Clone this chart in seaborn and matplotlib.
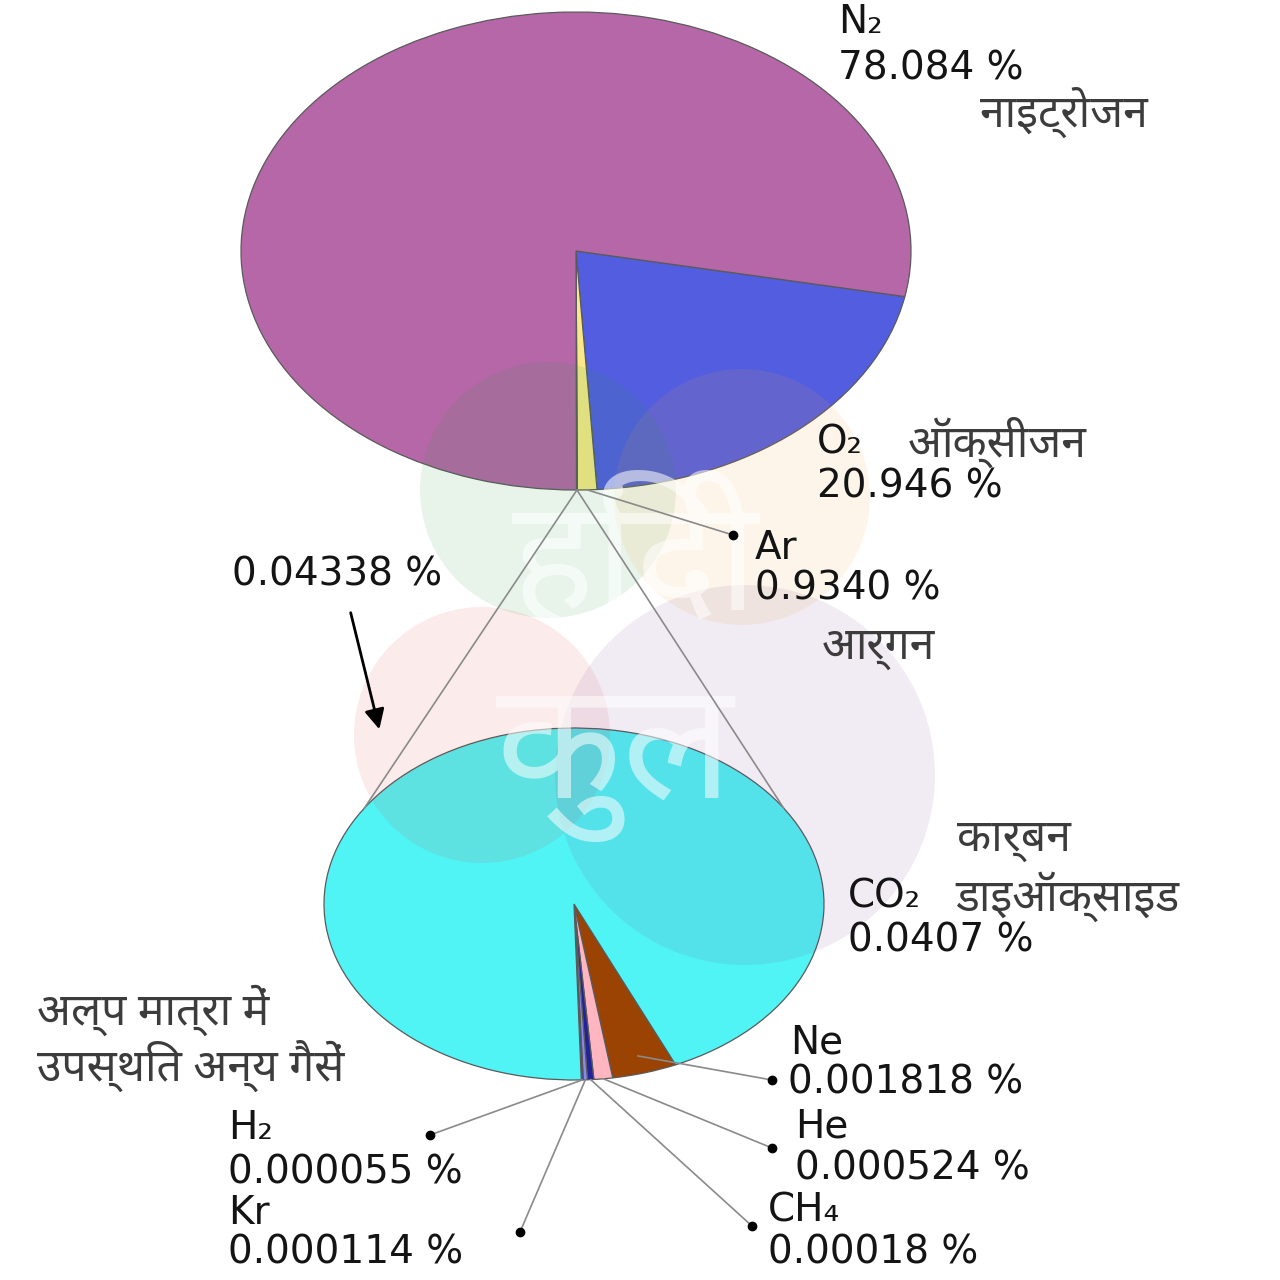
import matplotlib
matplotlib.use("Agg")
import matplotlib.pyplot as plt
import seaborn as sns
from matplotlib import font_manager as fm
from matplotlib.patches import Circle, FancyArrowPatch
import numpy as np

# ---------------- data ----------------
top_labels = ["O2", "Ar", "other", "N2"]
top_values = [20.946, 0.9340, 0.04338, 78.084]
top_colors = ["#535de0", "#f8e88a", "#50f4f4", "#b667a8"]

bot_labels = ["Ne", "He", "CH4", "Kr", "H2", "CO2"]
bot_values = [0.001818, 0.000524, 0.00018, 0.000114, 0.000055, 0.0407]
bot_colors = ["#9a4302", "#ffb6c1", "#22229a", "#8a8ae6", "#3a3ad0", "#50f4f4"]

# ---------------- fonts ----------------
sns.set_theme(style="white")

def find_deva_fonts():
    found = []
    try:
        from fontTools.ttLib import TTFont
    except Exception:
        return found
    seen = set()
    for f in fm.fontManager.ttflist:
        if f.name in seen:
            continue
        try:
            tt = TTFont(f.fname, fontNumber=0, lazy=True)
            cmap = tt.getBestCmap()
            if cmap and 0x0928 in cmap:
                found.append(f.name)
                seen.add(f.name)
        except Exception:
            pass
    return found

deva = find_deva_fonts()
deva_font = "DejaVu Sans"
for pref in ["Noto Sans Devanagari", "Lohit Devanagari", "FreeSans"]:
    if pref in deva:
        deva_font = pref
        break
else:
    others = [d for d in deva if "Unifont" not in d]
    if others:
        deva_font = others[0]
    elif deva:
        deva_font = deva[0]
HFAM = [deva_font, "DejaVu Sans"]
LFAM = ["DejaVu Sans"]
plt.rcParams["font.family"] = LFAM

fig = plt.figure(figsize=(12.8, 12.8), dpi=100)
fig.patch.set_facecolor("white")

W = H = 1280.0
def box(x0, y0, x1, y1):
    return [x0 / W, (H - y1) / H, (x1 - x0) / W, (y1 - y0) / H]

wedgeprops = dict(edgecolor="#5a5a5a", linewidth=0.9)

ax_top = fig.add_axes(box(241, 12, 911, 490))
top_w, _ = ax_top.pie(top_values, colors=top_colors, startangle=-11,
                      counterclock=False, wedgeprops=wedgeprops)
ax_top.set_aspect("auto")
ax_top.set_xlim(-1, 1); ax_top.set_ylim(-1, 1)
ax_top.axis("off")

ax_bot = fig.add_axes(box(324, 728, 824, 1080))
bot_w, _ = ax_bot.pie(bot_values, colors=bot_colors, startangle=-66,
                      counterclock=False, wedgeprops=wedgeprops)
ax_bot.set_aspect("auto")
ax_bot.set_xlim(-1, 1); ax_bot.set_ylim(-1, 1)
ax_bot.axis("off")

# overlay in pixel coords (y down)
ov = fig.add_axes([0, 0, 1, 1])
ov.set_xlim(0, W); ov.set_ylim(H, 0)
ov.axis("off")
ov.patch.set_alpha(0)

fig.canvas.draw()
def to_px(ax, x, y):
    d = ax.transData.transform((x, y))
    return ov.transData.inverted().transform(d)

def wedge_point(ax, wedge, r=1.0):
    a = np.deg2rad((wedge.theta1 + wedge.theta2) / 2)
    return to_px(ax, r * np.cos(a), r * np.sin(a))

def ell_point(ax, ang, r=1.0):
    a = np.deg2rad(ang)
    return to_px(ax, r * np.cos(a), r * np.sin(a))

# watermark circles
for (cx, cy, r, col) in [(548, 490, 128, "#1f9a3a"), (742, 497, 128, "#f2a22c"),
                         (482, 735, 128, "#e23b3b"), (745, 775, 190, "#7a4a9a")]:
    ov.add_patch(Circle((cx, cy), r, facecolor=col, alpha=0.10, edgecolor="none", zorder=1))
ov.text(635, 565, "हिंदी", family=HFAM, fontsize=112, fontweight="bold", color="white",
        alpha=0.55, ha="center", va="center", zorder=2)
ov.text(615, 760, "कुल", family=HFAM, fontsize=118, fontweight="bold", color="white",
        alpha=0.55, ha="center", va="center", zorder=2)

lc = "#8a8a8a"
# zoom lines from top "other" wedge to bottom pie
p0 = wedge_point(ax_top, top_w[2])
for ang in (147, 33):
    p1 = ell_point(ax_bot, ang)
    ov.plot([p0[0], p1[0]], [p0[1], p1[1]], color=lc, lw=1.2, zorder=3)

# Ar leader
pa = wedge_point(ax_top, top_w[1])
ov.plot([pa[0], 733], [pa[1], 535], color=lc, lw=1.2, zorder=3)
ov.plot([733], [535], "o", color="black", ms=6, zorder=4)

# bottom leaders
dots = {"Ne": (772, 1080), "He": (772, 1148), "CH4": (752, 1226),
        "Kr": (520, 1232), "H2": (430, 1135)}
radii = {"Ne": 0.9, "He": 1.0, "CH4": 1.0, "Kr": 1.0, "H2": 1.0}
for i, name in enumerate(bot_labels[:5]):
    ps = wedge_point(ax_bot, bot_w[i], radii[name])
    dx, dy = dots[name]
    ov.plot([ps[0], dx], [ps[1], dy], color=lc, lw=1.2, zorder=3)
    ov.plot([dx], [dy], "o", color="black", ms=6, zorder=4)

# arrow
ov.add_patch(FancyArrowPatch((350, 610), (380, 732), arrowstyle="-|>,head_length=12,head_width=6",
                             color="black", lw=2, zorder=4))

LS = 28
lk = dict(family=LFAM, fontsize=LS, color="#141414", ha="left", va="center", zorder=5)
hk = dict(family=HFAM, fontsize=32, color="#3c3c3c", ha="left", va="center", zorder=5)

texts = [
    (838, 22, "N₂"), (838, 68, "78.084 %"),
    (817, 442, "O₂"), (817, 486, "20.946 %"),
    (755, 548, "Ar"), (755, 588, "0.9340 %"),
    (232, 575, "0.04338 %"),
    (848, 897, "CO₂"), (848, 941, "0.0407 %"),
    (790, 1042, "Ne"), (788, 1083, "0.001818 %"),
    (795, 1127, "He"), (795, 1169, "0.000524 %"),
    (768, 1211, "CH₄"), (768, 1253, "0.00018 %"),
    (228, 1128, "H₂"), (228, 1173, "0.000055 %"),
    (228, 1213, "Kr"), (228, 1253, "0.000114 %"),
]
for x, y, s in texts:
    ov.text(x, y, s, **lk)

htexts = [
    (980, 112, "नाइट्रोजन"), (908, 442, "ऑक्सीजन"), (822, 648, "आर्गन"),
    (957, 840, "कार्बन"), (955, 897, "डाइऑक्साइड"),
    (37, 1010, "अल्प मात्रा में"), (37, 1066, "उपस्थित अन्य गैसें"),
]
for x, y, s in htexts:
    ov.text(x, y, s, **hk)

fig.savefig("out.png", dpi=100, facecolor="white")
